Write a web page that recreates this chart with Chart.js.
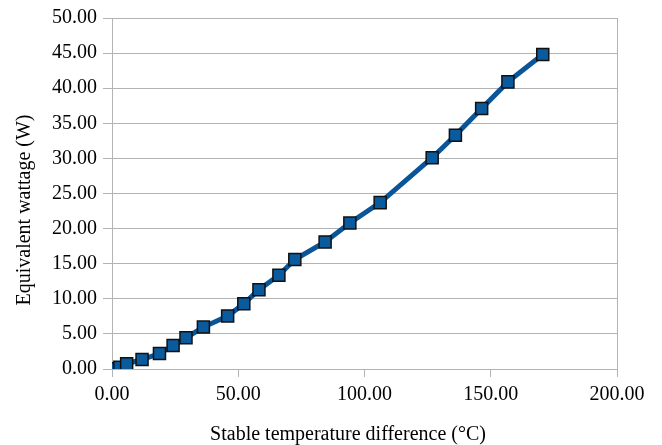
<!DOCTYPE html>
<html>
<head>
<meta charset="utf-8">
<script src="https://cdn.jsdelivr.net/npm/chart.js@4"></script>
<style>
html,body{margin:0;padding:0;background:#fff;}
#wrap{width:662px;height:445px;}
</style>
</head>
<body>
<div id="wrap"><canvas id="c" width="662" height="445"></canvas></div>
<script>
const tempDiff = [0.7, 3.1, 5.8, 11.9, 18.8, 24.2, 29.3, 36.2, 45.8, 52.2, 58.2, 66.1, 72.4, 84.4, 94.2, 106.2, 126.8, 136.0, 146.4, 156.8, 170.6];
const wattage  = [0.05, 0.25, 0.73, 1.35, 2.2, 3.35, 4.45, 5.97, 7.55, 9.3, 11.3, 13.36, 15.6, 18.1, 20.8, 23.7, 30.1, 33.3, 37.1, 40.9, 44.8];
const xTitle = 'Stable temperature difference (°C)';
const yTitle = 'Equivalent wattage (W)';

const points = tempDiff.map((x, i) => ({x: x, y: wattage[i]}));
const FONT = '"Liberation Serif", "Times New Roman", serif';

const titlePlugin = {
  id: 'titles',
  afterDraw(chart) {
    const ctx = chart.ctx;
    ctx.save();
    ctx.fillStyle = '#000';
    ctx.font = '20px ' + FONT;
    ctx.textAlign = 'center';
    ctx.textBaseline = 'alphabetic';
    ctx.fillText(xTitle, 348, 440);
    ctx.translate(30, 210);
    ctx.rotate(-Math.PI / 2);
    ctx.fillText(yTitle, 0, 0);
    ctx.restore();
  }
};

new Chart(document.getElementById('c'), {
  type: 'scatter',
  data: {
    datasets: [{
      data: points,
      showLine: true,
      borderColor: '#0a5597',
      borderWidth: 5,
      backgroundColor: '#0a5a9e',
      pointStyle: 'rect',
      pointRadius: 8.5,
      pointHoverRadius: 8.5,
      pointBorderColor: '#111',
      pointBorderWidth: 1.5,
      tension: 0
    }]
  },
  options: {
    responsive: false,
    animation: false,
    devicePixelRatio: 1,
    layout: { padding: { top: 15, right: 45, left: 0, bottom: 0 } },
    plugins: { legend: { display: false }, tooltip: { enabled: false } },
    scales: {
      x: {
        type: 'linear', min: 0, max: 200,
        afterFit(s) { s.height = 76; },
        ticks: { stepSize: 50, color: '#000', padding: 6, font: { family: FONT, size: 20 }, callback: v => Number(v).toFixed(2), maxRotation: 0 },
        grid: {
          color: c => (c.tick && (c.tick.value === 200)) ? '#b3b3b3' : 'rgba(0,0,0,0)',
          tickColor: '#b3b3b3', tickLength: 8, lineWidth: 1
        },
        border: { display: true, color: '#b3b3b3' }
      },
      y: {
        type: 'linear', min: 0, max: 50,
        afterFit(s) { s.width = 112; },
        ticks: { stepSize: 5, color: '#000', padding: 6, font: { family: FONT, size: 20 }, callback: v => Number(v).toFixed(2) },
        grid: { color: '#b3b3b3', tickColor: '#b3b3b3', tickLength: 9, lineWidth: 1 },
        border: { display: true, color: '#b3b3b3' }
      }
    }
  },
  plugins: [titlePlugin]
});
</script>
</body>
</html>
